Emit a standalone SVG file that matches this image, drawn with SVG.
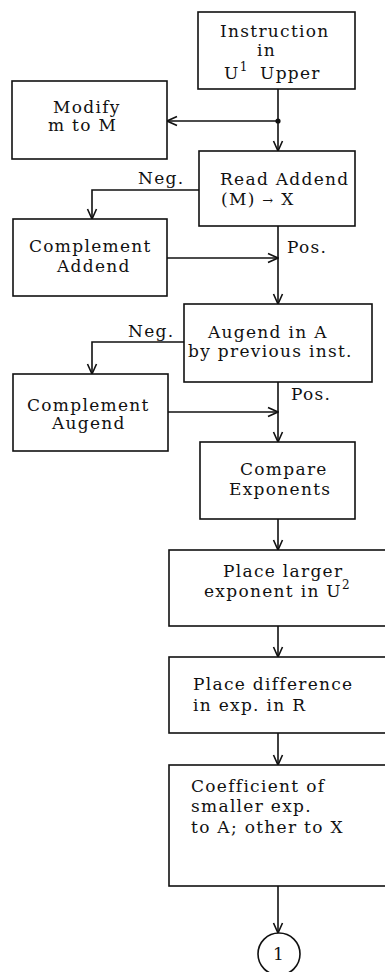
<svg xmlns="http://www.w3.org/2000/svg" width="385" height="972" viewBox="0 0 385 972">
<style>
.box{fill:#fff;stroke:#111;stroke-width:1.6}
.ln{fill:none;stroke:#111;stroke-width:1.6}
text{font-family:"DejaVu Serif","Liberation Serif",serif;font-size:17px;fill:#111;letter-spacing:1.3px}
.sup{font-size:12px;letter-spacing:0}
</style>
<defs>
<marker id="ah" viewBox="0 0 12 12" refX="11" refY="6" markerWidth="12" markerHeight="12" markerUnits="userSpaceOnUse" orient="auto">
<path d="M1,1.5 L11,6 L1,10.5" fill="none" stroke="#111" stroke-width="1.6"/>
</marker>
</defs>
<rect width="385" height="972" fill="#fff"/>
<g id="connectors">
<path class="ln" d="M278,89 V151" marker-end="url(#ah)"/>
<circle cx="278" cy="121" r="2.6" fill="#111"/>
<path class="ln" d="M278,121 H167" marker-end="url(#ah)"/>
<path class="ln" d="M199,190 H92 V219" marker-end="url(#ah)"/>
<path class="ln" d="M167,258 H278" marker-end="url(#ah)"/>
<path class="ln" d="M278,226 V304" marker-end="url(#ah)"/>
<path class="ln" d="M184,342 H92 V374" marker-end="url(#ah)"/>
<path class="ln" d="M168,412 H278" marker-end="url(#ah)"/>
<path class="ln" d="M278,382 V442" marker-end="url(#ah)"/>
<path class="ln" d="M278,519 V550" marker-end="url(#ah)"/>
<path class="ln" d="M278,626 V657" marker-end="url(#ah)"/>
<path class="ln" d="M278,733 V765" marker-end="url(#ah)"/>
<path class="ln" d="M278,886 V933" marker-end="url(#ah)"/>
<text x="138" y="184">Neg.</text>
<text x="287" y="253">Pos.</text>
<text x="128" y="337">Neg.</text>
<text x="291" y="400">Pos.</text>
</g>
<g id="instruction">
<rect class="box" x="198" y="12" width="157" height="77"/>
<text x="220" y="37">Instruction</text>
<text x="257" y="56">in</text>
<text x="224" y="79">U<tspan class="sup" dy="-8">1</tspan><tspan x="260" dy="8">Upper</tspan></text>
</g>
<g id="modify">
<rect class="box" x="12" y="81" width="155" height="78"/>
<text x="53" y="113">Modify</text>
<text x="48" y="131">m to M</text>
</g>
<g id="read-addend">
<rect class="box" x="199" y="151" width="156" height="75"/>
<text x="220" y="185">Read Addend</text>
<text x="221" y="205">(M) <tspan font-size="13">→</tspan> X</text>
</g>
<g id="complement-addend">
<rect class="box" x="13" y="219" width="154" height="77"/>
<text x="29" y="252">Complement</text>
<text x="57" y="272">Addend</text>
</g>
<g id="augend">
<rect class="box" x="184" y="304" width="188" height="78"/>
<text x="208" y="338">Augend in A</text>
<text x="188" y="357">by previous inst.</text>
</g>
<g id="complement-augend">
<rect class="box" x="13" y="374" width="155" height="77"/>
<text x="27" y="411">Complement</text>
<text x="52" y="429">Augend</text>
</g>
<g id="compare">
<rect class="box" x="200" y="442" width="155" height="77"/>
<text x="240" y="475">Compare</text>
<text x="229" y="495">Exponents</text>
</g>
<g id="place-larger">
<rect class="box" x="169" y="550" width="222" height="76"/>
<text x="223" y="577">Place larger</text>
<text x="204" y="597">exponent in U<tspan class="sup" dy="-8">2</tspan></text>
</g>
<g id="place-difference">
<rect class="box" x="169" y="657" width="222" height="76"/>
<text x="193" y="690">Place difference</text>
<text x="193" y="711">in exp. in R</text>
</g>
<g id="coefficient">
<rect class="box" x="169" y="765" width="222" height="121"/>
<text x="191" y="792">Coefficient of</text>
<text x="191" y="812">smaller exp.</text>
<text x="191" y="833">to A; other to X</text>
</g>
<g id="connector-1">
<circle class="box" cx="279" cy="954" r="21"/>
<text x="273" y="960" style="letter-spacing:0">1</text>
</g>
</svg>
